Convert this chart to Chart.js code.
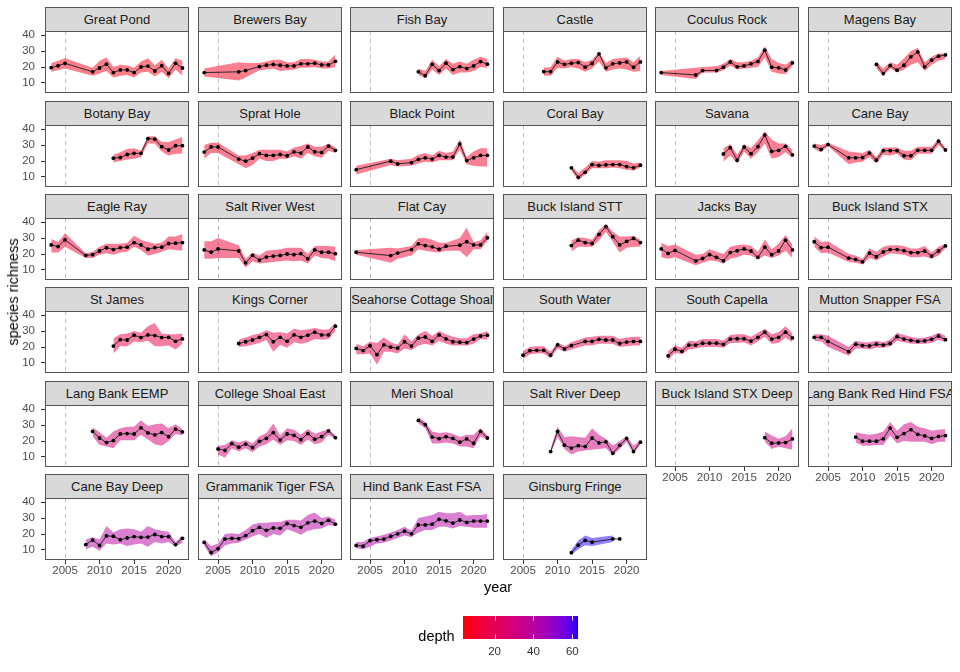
<!DOCTYPE html>
<html>
<head>
<meta charset="utf-8">
<script src="https://cdn.jsdelivr.net/npm/chart.js@4.4.1/dist/chart.umd.min.js"></script>
<style>
  html, body { margin: 0; padding: 0; background: #fff; }
  body { width: 960px; height: 672px; position: relative; overflow: hidden;
         font-family: "Liberation Sans", Arial, Helvetica, sans-serif; }
  canvas { position: absolute; }
  .strip { position: absolute; box-sizing: border-box; background: #d9d9d9;
           border: 1px solid #555; display: flex; justify-content: center;
           align-items: center; overflow: hidden; white-space: nowrap;
           font-size: 13px; color: #1a1a1a; }
  .title { position: absolute; white-space: nowrap; color: #000; font-size: 14.5px;
           transform: translate(-50%, -50%); }
</style>
</head>
<body>
<script>
"use strict";

// ---------- Data ----------
const SITES = [
  "Great Pond", "Brewers Bay", "Fish Bay", "Castle", "Coculus Rock", "Magens Bay",
  "Botany Bay", "Sprat Hole", "Black Point", "Coral Bay", "Savana", "Cane Bay",
  "Eagle Ray", "Salt River West", "Flat Cay", "Buck Island STT", "Jacks Bay", "Buck Island STX",
  "St James", "Kings Corner", "Seahorse Cottage Shoal", "South Water", "South Capella", "Mutton Snapper FSA",
  "Lang Bank EEMP", "College Shoal East", "Meri Shoal", "Salt River Deep", "Buck Island STX Deep", "Lang Bank Red Hind FSA",
  "Cane Bay Deep", "Grammanik Tiger FSA", "Hind Bank East FSA", "Ginsburg Fringe"
];

const DEPTHS = [
  6, 8, 8, 7, 8, 8,
  9, 10, 9, 9, 10, 10,
  12, 13, 12, 12, 13, 14,
  16, 17, 18, 18, 19, 25,
  28, 28, 30, 31, 31, 32,
  40, 40, 42, 62
];

const YEARS = [
  [2003,2004,2005,2009,2010,2011,2012,2013,2014,2015,2016,2017,2018,2019,2020,2021,2022],
  [2003,2008,2009,2011,2012,2013,2014,2015,2016,2017,2018,2019,2020,2021,2022],
  [2012,2013,2014,2015,2016,2017,2018,2019,2020,2021,2022],
  [2008,2009,2010,2011,2012,2013,2014,2015,2016,2017,2018,2019,2020,2021,2022],
  [2003,2008,2009,2011,2012,2013,2014,2015,2016,2017,2018,2019,2020,2021,2022],
  [2012,2013,2014,2015,2016,2017,2018,2019,2020,2021,2022],
  [2012,2013,2014,2015,2016,2017,2018,2019,2020,2021,2022],
  [2003,2004,2005,2008,2009,2010,2011,2012,2013,2014,2015,2016,2017,2018,2019,2020,2021,2022],
  [2003,2008,2009,2011,2012,2013,2014,2015,2016,2017,2018,2019,2020,2021,2022],
  [2012,2013,2014,2015,2016,2017,2018,2019,2020,2021,2022],
  [2012,2013,2014,2015,2016,2017,2018,2019,2020,2021,2022],
  [2003,2004,2005,2008,2009,2010,2011,2012,2013,2014,2015,2016,2017,2018,2019,2020,2021,2022],
  [2003,2004,2005,2008,2009,2010,2011,2012,2013,2014,2015,2016,2017,2018,2019,2020,2021,2022],
  [2003,2004,2005,2008,2009,2010,2011,2012,2013,2014,2015,2016,2017,2018,2019,2020,2021,2022],
  [2003,2008,2009,2011,2012,2013,2014,2015,2016,2018,2019,2020,2021,2022],
  [2012,2013,2014,2015,2016,2017,2018,2019,2020,2021,2022],
  [2003,2004,2005,2008,2009,2010,2011,2012,2013,2014,2015,2016,2017,2018,2019,2020,2021,2022],
  [2003,2004,2005,2008,2009,2010,2011,2012,2013,2014,2015,2016,2017,2018,2019,2020,2021,2022],
  [2012,2013,2014,2015,2016,2017,2018,2019,2020,2021,2022],
  [2008,2009,2010,2011,2012,2013,2014,2015,2016,2017,2018,2019,2020,2021,2022],
  [2003,2004,2005,2006,2007,2008,2009,2010,2011,2012,2013,2014,2015,2016,2017,2018,2019,2020,2021,2022],
  [2005,2006,2007,2008,2009,2010,2011,2012,2014,2015,2016,2017,2018,2019,2020,2021,2022],
  [2004,2005,2006,2007,2008,2009,2010,2011,2012,2013,2014,2015,2016,2017,2018,2019,2020,2021,2022],
  [2003,2004,2005,2008,2009,2010,2011,2012,2013,2014,2015,2016,2017,2018,2019,2020,2021,2022],
  [2009,2010,2011,2012,2013,2014,2015,2016,2017,2018,2019,2020,2021,2022],
  [2005,2006,2007,2008,2009,2010,2011,2012,2013,2014,2015,2016,2017,2018,2019,2020,2021,2022],
  [2012,2013,2014,2015,2016,2017,2018,2019,2020,2021,2022],
  [2009,2010,2011,2012,2013,2014,2015,2016,2017,2018,2019,2020,2021,2022],
  [2018,2019,2020,2021,2022],
  [2009,2010,2011,2012,2013,2014,2015,2016,2017,2018,2019,2020,2021,2022],
  [2008,2009,2010,2011,2012,2013,2014,2015,2016,2017,2018,2019,2020,2021,2022],
  [2003,2004,2005,2006,2007,2008,2009,2010,2011,2012,2013,2014,2015,2016,2017,2018,2019,2020,2021,2022],
  [2003,2004,2005,2006,2007,2008,2009,2010,2011,2012,2013,2014,2015,2016,2017,2018,2019,2020,2021,2022],
  [2012,2013,2014,2015,2018,2019]
];

const RICHNESS = [
  [19.6,20.8,22.3,17,19.4,21.8,16.5,18.2,18.2,16.5,20,20.6,17.5,20.8,16,22.3,19.4],
  [16.5,17,17.8,20.3,21.1,21.6,21.1,20.7,20.7,22,22,22.4,21.3,21.3,23.6],
  [17,14.6,21.6,17.8,22.4,18.4,20.3,19,20.7,23.4,21.8],
  [17.1,17.1,23.2,21.6,22.4,22.8,19.9,22.2,28.3,19.5,22,22.6,23.2,19.9,23.2],
  [16.5,15,17.8,17.8,19.9,23.2,20.1,20.7,22,23.4,30.6,19.9,19.5,18.2,22.6],
  [21.6,15.9,20.9,18,21.1,26.4,29.5,20.1,24.3,26.8,27.6],
  [21.8,22.2,24.1,24.8,24.8,34.1,33.7,29,26.9,29.6,29.6],
  [25.6,28.8,28.8,21.2,19.9,21.8,24.6,23.5,23.5,24.1,23.3,25.8,25,28.8,25.8,25.4,29.4,26.7],
  [14.6,19.9,18.2,19,21,22,21.2,23.5,22.5,22.5,30.7,20.3,22,23.5,23.5],
  [15.7,9.8,12.9,17.8,17.2,17.6,17.8,17.8,16.5,15.7,17.4],
  [24.4,28.4,20.5,28.8,24.6,29,36.4,26,26.7,29.2,23.9],
  [29.4,27.3,30.3,22,22,22.2,25,20.5,26.5,26.5,26.5,23.3,23.3,26.7,26.7,26.7,32.4,26.9],
  [25.7,24.7,28.9,19.1,19.6,21.9,24,22.8,24,24.3,27.2,25.7,23,24,24.3,26.6,26.8,27.2],
  [22.6,21.1,23.2,21.9,14.5,19.1,16.2,18.1,18.7,19.1,20,19.6,20.2,17,22.6,21.1,21.1,20.2],
  [21.1,19,20.6,22.8,26.4,25.3,24.5,23,24.9,25.5,27.7,25.7,25.7,30.2],
  [25.3,28.7,27.2,26.6,32.3,37.2,30.9,25.7,27.9,29.8,27.2],
  [23.2,20.4,22.3,15.7,17.2,19.6,17.9,15.7,20.9,22.1,23.2,21.9,17.9,24.3,19.6,21.9,28.7,22.6],
  [27.7,24,24.3,17.4,16.6,15.1,20.6,18.3,21.3,22.8,22.8,22.1,20.9,20.9,21.9,18.7,21.9,25.1],
  [20.6,24.6,24.4,27.4,25.9,27.6,27.2,25.9,26.1,23.6,25.1],
  [22.2,23.3,24.4,26.1,27.8,23.3,26.1,23.6,27.6,26.1,27.4,29.3,27.6,27.6,33.1],
  [19.1,17.8,20.8,15.2,21.4,19.9,19.3,23.3,20.6,25.5,26.3,23.6,27.6,25.1,23.3,23,22.8,25,26.9,27.4],
  [14.9,17.7,17.9,17.9,14.9,21.4,18.8,20.9,23.5,23.5,24.8,24.4,24.4,22.2,23.1,23.5,23.5],
  [14.5,18.6,17.3,21.2,21.2,22.4,22.4,22.4,21.6,25,25.2,25.2,23.7,26.1,29.3,25,26.1,29.3,25.7],
  [26.1,26.1,23.5,17.1,21.8,20.9,20.7,21.8,21.2,22.2,26.5,25,24.2,23.5,23.9,24.8,26.9,24.6],
  [26,21.9,19,20.3,24.4,24.7,24.4,28.3,25.1,23.8,25.3,22.7,27.5,25.7],
  [15,14.1,18.4,16.1,18.1,15.9,19.8,21.6,25.3,20.6,24.4,23.6,20.8,24.7,21.1,22.7,26.4,22.1],
  [32.9,30.3,22.5,21.5,22.7,21.6,19.3,21.3,18.6,26,21.9],
  [13.4,26,17.4,15.6,17.1,16.5,21.9,18.8,19.5,12.3,17.3,21.6,13.4,19.3],
  [22.1,18.6,18.8,19,21.3],
  [22.5,19.9,19.9,19.9,21.4,28.1,22.3,24.7,27.1,24.2,23.2,21.6,22.9,23.4],
  [13.4,16.2,12.8,18.8,18.6,16.4,17.5,18.4,17.9,18.1,19.7,18.4,18.4,13.4,17.3],
  [14.7,8.4,10.8,16.8,17.3,17.1,19,22.1,24.2,22.3,23.8,23.6,26.6,25.3,24.2,27,28.1,26.6,28.6,26.2],
  [12.8,12.4,15.8,16.4,16.8,18.6,20.1,21.8,20.1,25.7,25.7,26.2,29.2,28.3,26.8,28.8,27.3,28.1,28.1,28.1],
  [8.3,13,16,14.9,16.9,16.9]
];

const LOWER = [
  [17,18,19,14.5,16,17.5,13.5,14.5,15,13.5,16.5,17,14,17,13,18.5,14.5],
  [14,11.5,13.5,18,18.5,19,17.5,18,18.5,19.5,19.5,20,19,19,20],
  [15,13,18.5,15,19,15,16.5,16.5,17.5,20,19.5],
  [14.5,14.5,19.5,19,20,19,17,19,23.5,17,18.5,19,18.5,17,17.5],
  [15,12.5,16.5,16.5,18,21,18.5,19,19.5,20,26,17,16,15.5,20.5],
  [19,14.5,19,16.5,18.5,21.5,23,17.5,21.5,24,25],
  [19,20,21,21.5,22.5,31,31,26,23.5,24.5,24.5],
  [21.5,25,25,18,15.5,17.5,21.5,20,20,21.5,21.5,23,21.5,25,23,22,26.5,25],
  [11.5,17.5,16.5,17,18.5,19.5,19,20.5,20.5,20.5,27,18,17,16.5,16.5],
  [14,8,11.5,15.5,15.5,15.5,16,15.5,14.5,14,16],
  [19.5,23.5,18.5,26,21.5,25.5,31,21.5,22.5,25.5,22],
  [27.5,25.5,29.5,18,19,19.5,22.5,18.5,24,23.5,24.5,21,20.5,24.5,24.5,24.5,30,26],
  [21,21,24.5,17.5,17.5,19.5,20.5,19.5,21,21.5,24.5,22.5,19,20,21.5,23,22.5,22],
  [17,17,17.5,17.5,11.5,15.5,14,14.5,15,15.5,16,15.5,16,14,19,17.5,17,15.5],
  [19.5,14.5,17,19,23,22,21.5,21,22,22,18,23,23,28],
  [21.5,24.5,24.5,24.5,28.5,34,27.5,21,24,24.5,24.5],
  [18,17,18,13,14.5,16,15.5,14,17,18,19.5,19,16.5,19,17.5,19,22,17.5],
  [24.5,20.5,21,15,14.5,13.5,17.5,16,18.5,20.5,20,19.5,18,18,18.5,17,19,23.5],
  [16,20.5,20.5,23.5,23,24,20.5,20.5,21,18.5,22],
  [20,20.5,21.5,22.5,24.5,17,21.5,19.5,23,22,23,25,24.5,25,30],
  [15.5,15.5,16,9,17,17,16,19,18,21,22,21,24,22,21,21,21,22,25,24.5],
  [12.5,15.5,16,16,13,19,17,18.5,21,21,22,22,22,20,20.5,21,21],
  [11.5,16.5,15.5,18.5,19,20,20,20,19.5,22.5,22.5,23,21,23.5,26.5,22,22.5,26,23],
  [24,23.5,20,14.5,19,19,18.5,19.5,19.5,20.5,24,23,22,22,22,22.5,24.5,23],
  [23,17.5,16.5,15.5,20.5,20.5,20.5,24,21,18,17,20,24.5,23.5],
  [11.5,9.5,15.5,13.5,15.5,13,16.5,18,21,17.5,20.5,20,17.5,21,18,19,24,21],
  [31,28,18.5,18.5,19,18.5,16.5,16.5,15.5,23,20.5],
  [12.5,22.5,15,11.5,13.5,14,14.5,15,15.5,11,15,19.5,12,18],
  [19.5,15,16.5,15.5,14.5],
  [19,17,17,17.5,17.5,23.5,18.5,20,19.5,19.5,19.5,18,19.5,19.5],
  [10.5,12,9.5,14,13.5,14,12.5,13.5,14,12,15,14,15,12,14.5],
  [12.5,6,8.5,13,14,14.5,16.5,18.5,20,17.5,20,19,23,21.5,19.5,22,23,23.5,25.5,25],
  [11,10.5,12,14,14.5,16,17.5,19,18,21,22.5,22.5,24.5,24.5,23.5,25,24.5,24,24,24],
  [7,10.5,13,12.5,15,null]
];

const UPPER = [
  [22.5,24,25.5,19.5,24,26,20,21.5,21,19.5,23.5,25.5,21,24.5,19,25.5,24],
  [19,23,22.5,22.5,23.5,24.5,24.5,23,23,25,25,24.5,23.5,23.5,28],
  [19,17.5,24.5,20.5,25,22,23.5,22,24.5,26.5,25],
  [19.5,20,26.5,24,25,25,23,24.5,29.5,22.5,25,25.5,26,23,27],
  [17.5,19.5,20,20.5,22,25,23,23,24,26,33,25,22.5,21.5,24.5],
  [23.5,19,23,21.5,25.5,30,32,23,26.5,28.5,28.5],
  [24,25.5,27.5,28,26.5,35.5,35.5,32,32,33.5,35],
  [30,31.5,31.5,23.5,23.5,25,27,27,27,27,26,28.5,29.5,31,29,29,31,28.5],
  [17,21.5,20.5,21.5,24,25,23.5,26.5,25,26,33.5,22.5,26,28,28],
  [17,12.5,16,20,19.5,20.5,20.5,20.5,20,18.5,19],
  [28,30.5,24,30.5,28,33,38.5,33.5,31,31,27],
  [31,30,31.5,26,25.5,25,27,22.5,28.5,28.5,28.5,26.5,26.5,29,29,29,34,28],
  [29.5,27.5,33,20.5,21.5,24.5,26.5,26.5,26.5,27,31.5,29,27.5,26.5,27,31,31,32.5],
  [28,28,30,25.5,17,21,19,22,22.5,23,24,24,24,20,25,25,25,24.5],
  [22.5,24,23.5,25,30,30,29,27,27,30,36.5,27.5,28.5,34],
  [28.5,30.5,30,29,35,39,34,31,31,31.5,29],
  [27,25,26,19.5,20,23,21.5,20,24.5,25.5,26,25,21.5,29,23,26.5,32,26],
  [31,27.5,28,20,19,17,23.5,21.5,24.5,25.5,25.5,25,23.5,23.5,25,21,24.5,26.5],
  [25.5,28,28.5,30,29,33,35,28.5,28,28,28.5],
  [24.5,26,27.5,28.5,30.5,29,29.5,28.5,31.5,30.5,31,32,31,31,35],
  [22,20.5,23.5,22.5,26,23,21.5,28,23.5,28,30,27,30,28,26.5,25.5,25.5,28,28.5,30],
  [17.5,20,20.5,20.5,17,23,20.5,23,26,26.5,27,27,27,25,26,26.5,26.5],
  [17.5,21,19.5,24,23.5,25,25,25,24,27.5,28,28,26.5,29,31.5,28,29.5,33,28.5],
  [28,28,27,20,24,23,23,24,23,24.5,29,27.5,26.5,25.5,26,27,29,27],
  [28.5,25.5,22,26,28,29,29,33,29.5,30.5,31,28,30.5,27.5],
  [17,17.5,20.5,19,20.5,18.5,23,25,31,23.5,28,27,24,27.5,24.5,26,27.5,23.5],
  [35,32,26,25,25.5,24.5,22.5,24,24,28,23.5],
  [15,29,22.5,23,22.5,22,28,24,21.5,17,20,23,17,20.5],
  [26,23.5,21.5,23,28],
  [25.5,24.5,24,24.5,26,32,26.5,30.5,32,29,28,26.5,27,27.5],
  [16.5,18,16.5,25,21,23,23.5,23,21.5,25,23,22,21.5,15,19],
  [16.5,12.5,14,20,20.5,20,22.5,26,27,27,27.5,27.5,29,29,28.5,32,33.5,30,31,29],
  [15,15,17.5,18.5,19.5,21,22.5,24.5,22,30,31,32,34,33,33,34,31.5,32,32,32.5],
  [10,16,19,17.5,19,null]
];

const X_TICKS = [2005, 2010, 2015, 2020];
const Y_TICKS = [10, 20, 30, 40];
const DEPTH_TICKS = [20, 40, 60];
const REF_YEAR = 2005;

// ---------- Layout ----------
const FONT = '"Liberation Sans", Arial, Helvetica, sans-serif';
const NCOL = 6;
const PANEL_W = 144, PANEL_H = 62, STRIP_H = 24;
const AXIS_W = 45, AXIS_H = 24, PAD = 16;
const X_MIN = 2002.1, X_MAX = 2022.95, Y_MIN = 3.7, Y_MAX = 42.6;
const DEPTH_MIN = 3.8, DEPTH_MAX = 62.9;
const RIBBON_ALPHA = 0.5;

function colLeft(c) { return Math.round(45 + 152.5 * c); }
function rowTop(r) { return Math.round(7.3 + 93.3 * r); }

// ---------- Colour (red -> blue, interpolated in CIELAB) ----------
const WHITE = [0.95047, 1, 1.08883];
function toLinear(c) { c /= 255; return c <= 0.04045 ? c / 12.92 : Math.pow((c + 0.055) / 1.055, 2.4); }
function toByte(c) {
  const v = c <= 0.0031308 ? 12.92 * c : 1.055 * Math.pow(c, 1 / 2.4) - 0.055;
  return Math.round(Math.max(0, Math.min(1, v)) * 255);
}
function rgbToLab(rgb) {
  const [r, g, b] = rgb.map(toLinear);
  const X = (0.4124 * r + 0.3576 * g + 0.1805 * b) / WHITE[0];
  const Y = 0.2126 * r + 0.7152 * g + 0.0722 * b;
  const Z = (0.0193 * r + 0.1192 * g + 0.9505 * b) / WHITE[2];
  const f = t => t > 0.008856 ? Math.cbrt(t) : 7.787 * t + 16 / 116;
  const fx = f(X), fy = f(Y), fz = f(Z);
  return [116 * fy - 16, 500 * (fx - fy), 200 * (fy - fz)];
}
function labToRgb([L, a, b]) {
  const fy = (L + 16) / 116, fx = fy + a / 500, fz = fy - b / 200;
  const fi = t => t * t * t > 0.008856 ? t * t * t : (t - 16 / 116) / 7.787;
  const X = fi(fx) * WHITE[0], Y = fi(fy), Z = fi(fz) * WHITE[2];
  return [
    toByte(3.2406 * X - 1.5372 * Y - 0.4986 * Z),
    toByte(-0.9689 * X + 1.8758 * Y + 0.0415 * Z),
    toByte(0.0557 * X - 0.2040 * Y + 1.0570 * Z)
  ];
}
const LAB_LOW = rgbToLab([255, 0, 0]);
const LAB_HIGH = rgbToLab([0, 0, 255]);
function depthRgb(d) {
  const t = Math.max(0, Math.min(1, (d - DEPTH_MIN) / (DEPTH_MAX - DEPTH_MIN)));
  return labToRgb(LAB_LOW.map((v, k) => v + (LAB_HIGH[k] - v) * t));
}
function depthColor(d, alpha) {
  const [r, g, b] = depthRgb(d);
  return `rgba(${r},${g},${b},${alpha})`;
}

// ---------- Plugins ----------
const panelPlugin = {
  id: "panel",
  beforeDatasetsDraw(chart) {
    const { ctx, chartArea: a, scales: { x } } = chart;
    const px = Math.round(x.getPixelForValue(REF_YEAR)) + 0.5;
    ctx.save();
    ctx.strokeStyle = "#bdbdbd";
    ctx.lineWidth = 1;
    ctx.setLineDash([4, 4]);
    ctx.beginPath();
    ctx.moveTo(px, a.top);
    ctx.lineTo(px, a.bottom);
    ctx.stroke();
    ctx.restore();
  },
  afterDraw(chart) {
    const { ctx, chartArea: a } = chart;
    ctx.save();
    ctx.strokeStyle = "#555";
    ctx.lineWidth = 1;
    ctx.strokeRect(a.left + 0.5, a.top + 0.5, a.right - a.left - 1, a.bottom - a.top - 1);
    ctx.restore();
  }
};

const colourbarPlugin = {
  id: "colourbar",
  beforeDraw(chart) {
    const { ctx, chartArea: a, scales: { x } } = chart;
    ctx.save();
    for (let px = a.left; px < a.right; px++) {
      ctx.fillStyle = depthColor(x.getValueForPixel(px + 0.5), 1);
      ctx.fillRect(px, a.top, 1, a.bottom - a.top);
    }
    const tl = (a.bottom - a.top) / 5;
    ctx.strokeStyle = "rgba(255,255,255,0.85)";
    ctx.lineWidth = 1;
    for (const v of DEPTH_TICKS) {
      const px = Math.round(x.getPixelForValue(v)) + 0.5;
      ctx.beginPath();
      ctx.moveTo(px, a.top); ctx.lineTo(px, a.top + tl);
      ctx.moveTo(px, a.bottom - tl); ctx.lineTo(px, a.bottom);
      ctx.stroke();
    }
    ctx.restore();
  }
};

// ---------- Builders ----------
function addText(text, cx, cy, extra) {
  const el = document.createElement("div");
  el.className = "title";
  el.textContent = text;
  el.style.left = cx + "px";
  el.style.top = cy + "px";
  if (extra) el.style.transform = extra;
  document.body.appendChild(el);
}

function addCanvas(left, top, w, h) {
  const cv = document.createElement("canvas");
  cv.width = w;
  cv.height = h;
  cv.style.left = left + "px";
  cv.style.top = top + "px";
  cv.style.width = w + "px";
  cv.style.height = h + "px";
  document.body.appendChild(cv);
  return cv;
}

function tickFont() { return { size: 11.5, family: FONT }; }

function makePanel(i) {
  const col = i % NCOL, row = Math.floor(i / NCOL);
  const lastRow = Math.floor((SITES.length - 1) / NCOL);
  const lastRowCols = SITES.length % NCOL;
  const hasY = col === 0;
  const hasX = row === lastRow || (row === lastRow - 1 && col >= lastRowCols);
  const padL = hasY ? AXIS_W : 0, padB = hasX ? AXIS_H : 0;
  const x0 = colLeft(col), top = rowTop(row), y0 = top + STRIP_H;

  const strip = document.createElement("div");
  strip.className = "strip";
  strip.style.left = x0 + "px";
  strip.style.top = top + "px";
  strip.style.width = PANEL_W + "px";
  strip.style.height = (STRIP_H + 1) + "px";
  const span = document.createElement("span");
  span.textContent = SITES[i];
  strip.appendChild(span);
  document.body.appendChild(strip);

  const cv = addCanvas(x0 - padL - PAD, y0 - PAD, PANEL_W + padL + 2 * PAD, PANEL_H + padB + 2 * PAD);
  const yrs = YEARS[i];
  const pts = arr => yrs.map((x, k) => ({ x, y: arr[k] }));

  new Chart(cv, {
    type: "line",
    data: {
      datasets: [
        { data: pts(LOWER[i]), borderWidth: 0, pointRadius: 0, fill: false, order: 2 },
        { data: pts(UPPER[i]), borderWidth: 0, pointRadius: 0, fill: "-1",
          backgroundColor: depthColor(DEPTHS[i], RIBBON_ALPHA), order: 1 },
        { data: pts(RICHNESS[i]), borderColor: "#1a1a1a", borderWidth: 0.9, pointRadius: 1.9,
          pointBackgroundColor: "#000", pointBorderWidth: 0, fill: false, order: 0 }
      ]
    },
    options: {
      responsive: false,
      animation: false,
      events: [],
      layout: { padding: PAD },
      elements: { line: { tension: 0 } },
      plugins: { legend: { display: false }, tooltip: { enabled: false } },
      scales: {
        x: {
          type: "linear", min: X_MIN, max: X_MAX, display: hasX,
          afterBuildTicks: s => { s.ticks = X_TICKS.map(v => ({ value: v })); },
          afterFit: s => { s.height = padB; },
          grid: { drawOnChartArea: false, tickLength: 4, color: "#333" },
          border: { display: false },
          ticks: { color: "#4d4d4d", font: tickFont(), padding: 0, maxRotation: 0,
                   autoSkip: false, callback: v => String(v) }
        },
        y: {
          type: "linear", min: Y_MIN, max: Y_MAX, display: hasY,
          afterBuildTicks: s => { s.ticks = Y_TICKS.map(v => ({ value: v })); },
          afterFit: s => { s.width = padL; },
          grid: { drawOnChartArea: false, tickLength: 4, color: "#333" },
          border: { display: false },
          ticks: { color: "#4d4d4d", font: tickFont(), padding: 6, callback: v => String(v) }
        }
      }
    },
    plugins: [panelPlugin]
  });
}

function makeLegend() {
  const barL = 463, barT = 616, barW = 115, barH = 23;
  const cv = addCanvas(barL - PAD, barT - PAD, barW + 2 * PAD, barH + 22 + 2 * PAD);
  new Chart(cv, {
    type: "line",
    data: { datasets: [] },
    options: {
      responsive: false,
      animation: false,
      events: [],
      layout: { padding: PAD },
      plugins: { legend: { display: false }, tooltip: { enabled: false } },
      scales: {
        x: {
          type: "linear", min: DEPTH_MIN, max: DEPTH_MAX,
          afterBuildTicks: s => { s.ticks = DEPTH_TICKS.map(v => ({ value: v })); },
          afterFit: s => { s.height = 22; },
          grid: { display: false, drawTicks: false },
          border: { display: false },
          ticks: { color: "#333", font: tickFont(), padding: 6, maxRotation: 0,
                   autoSkip: false, callback: v => String(v) }
        },
        y: { display: false, min: 0, max: 1 }
      }
    },
    plugins: [colourbarPlugin]
  });
  addText("depth", 436.5, 636);
}

// ---------- Init ----------
SITES.forEach((_, i) => makePanel(i));
addText("species richness", 13, 291.5, "translate(-50%, -50%) rotate(-90deg)");
addText("year", 498, 587);
makeLegend();
</script>
</body>
</html>
